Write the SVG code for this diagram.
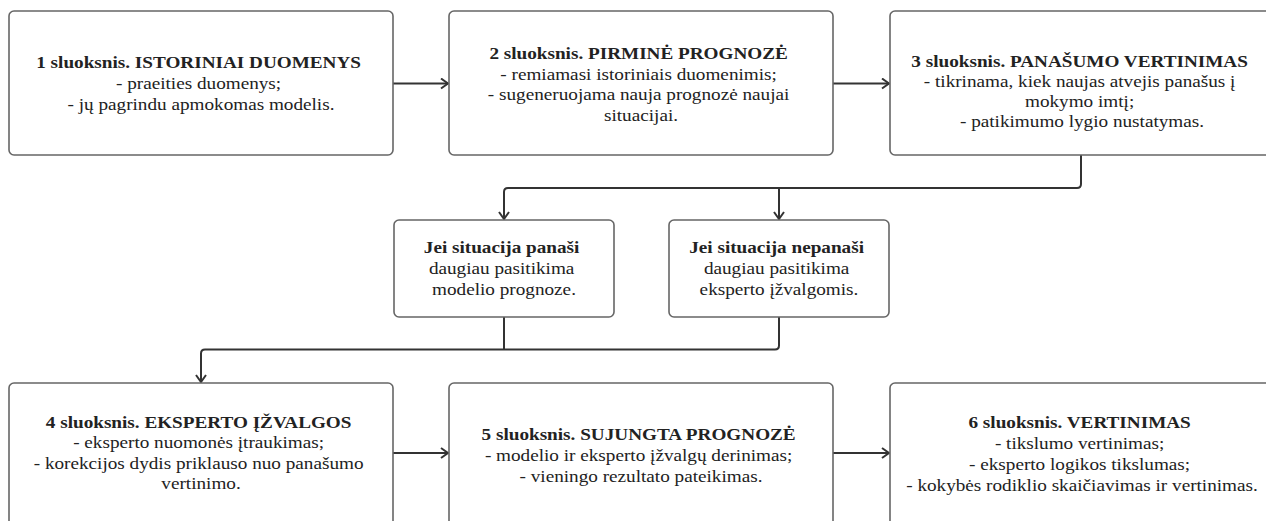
<svg xmlns="http://www.w3.org/2000/svg" width="1266" height="521" viewBox="0 0 1266 521">
<style>
.box{fill:#fff;stroke:#666;stroke-width:1.6}
.t{font-family:"Liberation Serif","Times New Roman",serif;font-size:16px;fill:#222;text-anchor:middle}
.b{font-weight:bold}
.c{fill:none;stroke:#333;stroke-width:2}
</style>
<defs>
<marker id="arr" viewBox="0 0 10 12" refX="9" refY="6" markerWidth="10" markerHeight="12" markerUnits="userSpaceOnUse" orient="auto">
<path d="M2,1 L9,6 L2,11" fill="none" stroke="#333" stroke-width="2"/>
</marker>
</defs>
<rect width="1266" height="521" fill="#fff"/>
<g id="connectors">
<path class="c" d="M393,83.5 H448" marker-end="url(#arr)"/>
<path class="c" d="M833,83.5 H889" marker-end="url(#arr)"/>
<path class="c" d="M1081,155 V184 Q1081,188 1077,188 H508 Q504,188 504,192 V219" marker-end="url(#arr)"/>
<path class="c" d="M779,188 V219" marker-end="url(#arr)"/>
<path class="c" d="M504,317 V349.5"/>
<path class="c" d="M779,317 V345.5 Q779,349.5 775,349.5 H205 Q201,349.5 201,353.5 V382" marker-end="url(#arr)"/>
<path class="c" d="M393,453 H448" marker-end="url(#arr)"/>
<path class="c" d="M833,453 H889" marker-end="url(#arr)"/>
</g>
<g id="n1">
<rect class="box" x="9" y="11" width="384" height="144" rx="5"/>
<text class="t" transform="translate(201,0) scale(1.2,1)">
<tspan class="b" x="0" y="68">1 sluoksnis. ISTORINIAI DUOMENYS</tspan>
<tspan x="0" y="89">- praeities duomenys;</tspan>
<tspan x="0" y="110">- jų pagrindu apmokomas modelis.</tspan>
</text>
</g>
<g id="n2">
<rect class="box" x="449" y="11" width="384" height="144" rx="5"/>
<text class="t" transform="translate(641,0) scale(1.2,1)">
<tspan class="b" x="0" y="59">2 sluoksnis. PIRMINĖ PROGNOZĖ</tspan>
<tspan x="0" y="80">- remiamasi istoriniais duomenimis;</tspan>
<tspan x="0" y="100">- sugeneruojama nauja prognozė naujai</tspan>
<tspan x="0" y="121">situacijai.</tspan>
</text>
</g>
<g id="n3">
<rect class="box" x="890" y="11" width="384" height="144" rx="5"/>
<text class="t" transform="translate(1082,0) scale(1.2,1)">
<tspan class="b" x="0" y="67">3 sluoksnis. PANAŠUMO VERTINIMAS</tspan>
<tspan x="0" y="87">- tikrinama, kiek naujas atvejis panašus į</tspan>
<tspan x="0" y="107">mokymo imtį;</tspan>
<tspan x="0" y="127">- patikimumo lygio nustatymas.</tspan>
</text>
</g>
<g id="n3a">
<rect class="box" x="394" y="220" width="220" height="97" rx="5"/>
<text class="t" transform="translate(504,0) scale(1.2,1)">
<tspan class="b" x="0" y="253">Jei situacija panaši</tspan>
<tspan x="0" y="274">daugiau pasitikima</tspan>
<tspan x="0" y="295">modelio prognoze.</tspan>
</text>
</g>
<g id="n3b">
<rect class="box" x="669" y="220" width="220" height="97" rx="5"/>
<text class="t" transform="translate(779,0) scale(1.2,1)">
<tspan class="b" x="0" y="253">Jei situacija nepanaši</tspan>
<tspan x="0" y="274">daugiau pasitikima</tspan>
<tspan x="0" y="295">eksperto įžvalgomis.</tspan>
</text>
</g>
<g id="n4">
<rect class="box" x="9" y="383" width="384" height="144" rx="5"/>
<text class="t" transform="translate(201,0) scale(1.2,1)">
<tspan class="b" x="0" y="428">4 sluoksnis. EKSPERTO ĮŽVALGOS</tspan>
<tspan x="0" y="448.5">- eksperto nuomonės įtraukimas;</tspan>
<tspan x="0" y="469">- korekcijos dydis priklauso nuo panašumo</tspan>
<tspan x="0" y="489.5">vertinimo.</tspan>
</text>
</g>
<g id="n5">
<rect class="box" x="449" y="383" width="384" height="144" rx="5"/>
<text class="t" transform="translate(641,0) scale(1.2,1)">
<tspan class="b" x="0" y="440">5 sluoksnis. SUJUNGTA PROGNOZĖ</tspan>
<tspan x="0" y="461">- modelio ir eksperto įžvalgų derinimas;</tspan>
<tspan x="0" y="482">- vieningo rezultato pateikimas.</tspan>
</text>
</g>
<g id="n6">
<rect class="box" x="890" y="383" width="384" height="144" rx="5"/>
<text class="t" transform="translate(1082,0) scale(1.2,1)">
<tspan class="b" x="0" y="428">6 sluoksnis. VERTINIMAS</tspan>
<tspan x="0" y="449">- tikslumo vertinimas;</tspan>
<tspan x="0" y="470">- eksperto logikos tikslumas;</tspan>
<tspan x="0" y="491">- kokybės rodiklio skaičiavimas ir vertinimas.</tspan>
</text>
</g>
</svg>
